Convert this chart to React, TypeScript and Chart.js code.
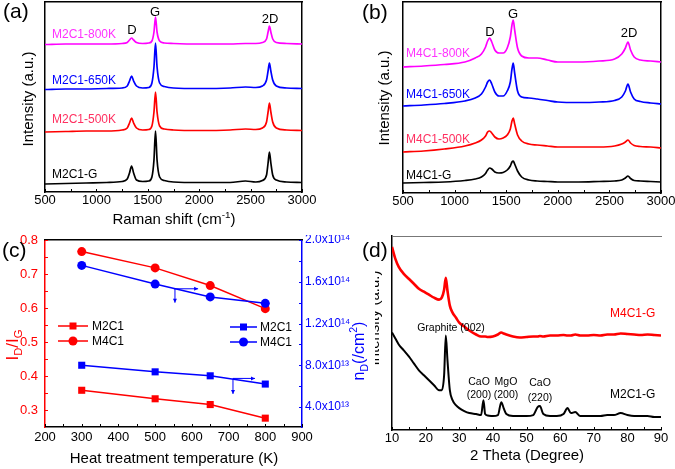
import React, { useEffect, useRef } from "react";
import { Chart, registerables } from "chart.js";

Chart.register(...registerables);

const FONT = "'Liberation Sans', Arial, Helvetica, sans-serif";

// ---------------- Panel (a): Raman spectra of M2C1 samples ----------------
const ramanShiftA = [500, 700, 900, 1100, 1250, 1300, 1322, 1342, 1362, 1390, 1450, 1510, 1540, 1560, 1575, 1590, 1615, 1660, 1750, 2000, 2300, 2450, 2550, 2615, 2655, 2670, 2683, 2697, 2715, 2750, 2850, 3000];
const m2c1G = [8, 8.5, 9, 9.5, 10.5, 13, 19, 26, 19, 12, 10.5, 11, 15, 32, 61, 32, 15, 11.5, 10, 9.5, 9.5, 11, 10, 11.5, 17, 29, 40, 29, 17, 12, 10, 9.5];
const m2c1_500K = [60, 60.5, 61, 61, 62, 64, 69, 74, 69, 64, 62, 62.5, 66, 80, 100, 80, 66, 63, 62, 61.5, 62, 63, 62.5, 64, 70, 80, 89, 80, 70, 64, 62, 61.5];
const m2c1_650K = [102.5, 103, 103, 103.5, 104, 106, 111, 116, 111, 106, 104, 104.5, 109, 125, 149, 125, 109, 105.5, 104, 103.5, 104, 105, 104.5, 106, 112, 121, 129, 121, 112, 106, 104, 103.5];
const m2c1_800K = [147.5, 148, 148, 148, 148.5, 149.5, 152, 154, 152, 149.5, 148.5, 149, 151, 160, 175, 160, 151, 149, 148.5, 148, 148, 148.5, 148.5, 149.5, 153, 160, 166, 160, 153, 149.5, 148.5, 148];

// ---------------- Panel (b): Raman spectra of M4C1 samples ----------------
const ramanShiftB = [500, 700, 900, 1100, 1200, 1260, 1300, 1320, 1340, 1360, 1390, 1430, 1470, 1510, 1540, 1556, 1568, 1582, 1610, 1650, 1720, 1800, 1900, 2000, 2200, 2400, 2550, 2620, 2655, 2680, 2705, 2740, 2800, 2900, 3000];
const m4c1G = [10, 10.5, 11, 12.5, 14, 16, 19.5, 23, 25, 24, 21, 20, 20.5, 23, 27, 31, 32, 29, 22, 16, 13, 12, 11.5, 11, 11, 11.5, 12, 13, 15, 17, 14.5, 12.5, 12, 11.5, 11];
const m4c1_500K = [41, 42, 44, 47, 50, 53, 57, 61, 62, 60, 56, 54, 55, 58, 64, 72, 75, 69, 58, 52, 49, 48, 47, 46, 46, 46, 47, 49, 51, 53, 50, 47.5, 46.5, 46, 45];
const m4c1_650K = [87, 88, 89.5, 92, 95, 99, 106, 111, 113, 109, 101, 97, 97, 102, 111, 124, 130, 120, 102, 96, 95, 94, 92.5, 91, 90.5, 91, 92.5, 96, 102, 109, 101, 94, 91.5, 90, 89];
const m4c1_800K = [126, 127, 128.5, 131, 135, 139, 146, 152, 155, 151, 143, 140, 140, 145, 156, 168, 173, 163, 145, 137, 135, 135, 133, 131, 131, 132, 134, 139, 145, 151, 143, 136, 133, 132, 131];

// ---------------- Panel (c): ID/IG and defect density ----------------
const tempsK = [300, 500, 650, 800];
const ratioM2C1 = [0.358, 0.333, 0.316, 0.276];
const ratioM4C1 = [0.766, 0.718, 0.666, 0.598];
const densityM2C1 = [8.01e13, 7.38e13, 7.0e13, 6.21e13];
const densityM4C1 = [1.757e14, 1.578e14, 1.455e14, 1.394e14];
const ratioTicks = [0.3, 0.4, 0.5, 0.6, 0.7, 0.8];
const densityTicks = [4e13, 8e13, 1.2e14, 1.6e14, 2.0e14];

// ---------------- Panel (d): XRD patterns ----------------
const twoTheta = [10, 11, 12, 13.5, 15, 16.5, 18, 19.5, 21, 22.5, 24, 24.8, 25.5, 26.0, 26.5, 27.2, 28, 29, 30, 31.5, 33, 35, 36.5, 37.2, 37.7, 38.5, 40, 41.5, 42.5, 43.2, 44, 46, 48, 50, 52, 53.3, 54, 55, 57, 59, 61, 62.2, 63.2, 64.5, 66, 68, 70, 72, 74, 76, 78, 80, 82, 84, 86, 88, 90];
const xrdM2C1 = [98, 92, 86, 80, 74, 67, 60, 55, 50, 45, 40, 40, 55, 95, 70, 40, 30, 25, 22, 19, 17, 16, 15, 30, 16, 14.5, 14, 15, 28, 22, 16, 14, 14, 14, 15, 23, 24, 16, 14, 14, 16, 22, 17, 18, 14, 14, 14, 14, 15, 15, 17, 15, 14, 14, 14, 13, 13];
const xrdM4C1 = [184, 172, 164, 157, 152, 147, 142, 139, 136, 133, 131, 133, 141, 153, 140, 125, 118, 113, 108, 104, 100, 96, 94, 94, 94, 93.5, 94, 96, 98, 97, 96, 94, 93, 93.5, 94, 94, 94.5, 94, 95, 95, 95.5, 95, 95, 96, 95, 95, 95.5, 95, 96, 96, 97, 96.5, 96, 95.5, 96, 95.5, 95];

// ---------------- helpers ----------------
type Seg = { t: string; s?: "sub" | "sup" };

function drawRich(ctx: any, segs: Seg[], x: number, y: number, size: number, color: string, align: string, rot: number) {
  const fsz = (s: Seg) => (s.s ? size * 0.66 : size);
  const widths = segs.map((s) => {
    ctx.font = `${fsz(s)}px ${FONT}`;
    return ctx.measureText(s.t).width;
  });
  const total = widths.reduce((a, b) => a + b, 0);
  ctx.save();
  ctx.translate(x, y);
  if (rot) ctx.rotate(rot);
  let cx = align === "center" ? -total / 2 : align === "right" ? -total : 0;
  const base = size * 0.36;
  ctx.fillStyle = color;
  ctx.textBaseline = "alphabetic";
  ctx.textAlign = "left";
  segs.forEach((s, i) => {
    ctx.font = `${fsz(s)}px ${FONT}`;
    const dy = s.s === "sup" ? -size * 0.42 : s.s === "sub" ? size * 0.24 : 0;
    ctx.fillText(s.t, cx, base + dy);
    cx += widths[i];
  });
  ctx.restore();
}

function makeDecor(opts: any) {
  return {
    id: "decor",
    afterDraw(chart: any) {
      const ctx = chart.ctx;
      const a = chart.chartArea;
      ctx.save();
      (opts.ticks || []).forEach((t: any) => {
        const sc = chart.scales[t.scale];
        ctx.strokeStyle = t.color;
        ctx.lineWidth = 1;
        const n = Math.round((t.to - t.from) / t.step);
        for (let i = 0; i <= n; i++) {
          const v = t.from + i * t.step;
          const p = Math.round(sc.getPixelForValue(v)) + 0.5;
          ctx.beginPath();
          if (t.side === "bottom") {
            ctx.moveTo(p, a.bottom);
            ctx.lineTo(p, a.bottom - t.len);
          } else if (t.side === "left") {
            ctx.moveTo(a.left, p);
            ctx.lineTo(a.left + t.len, p);
          } else {
            ctx.moveTo(a.right, p);
            ctx.lineTo(a.right - t.len, p);
          }
          ctx.stroke();
        }
      });
      (opts.legend || []).forEach((l: any) => {
        ctx.strokeStyle = l.color;
        ctx.fillStyle = l.color;
        ctx.lineWidth = 1.5;
        ctx.beginPath();
        ctx.moveTo(l.x1, l.y);
        ctx.lineTo(l.x2, l.y);
        ctx.stroke();
        const cx = (l.x1 + l.x2) / 2;
        if (l.marker === "rect") {
          ctx.fillRect(cx - l.size / 2, l.y - l.size / 2, l.size, l.size);
        } else {
          ctx.beginPath();
          ctx.arc(cx, l.y, l.size / 2, 0, Math.PI * 2);
          ctx.fill();
        }
        drawRich(ctx, [{ t: l.label }], l.tx, l.y, l.fontSize, "#000", "left", 0);
      });
      (opts.arrows || []).forEach((ar: any) => {
        const xs = chart.scales.x;
        const ys = chart.scales[ar.yAxis];
        const x1 = xs.getPixelForValue(ar.x1), y1 = ys.getPixelForValue(ar.y1);
        const x2 = xs.getPixelForValue(ar.x2), y2 = ys.getPixelForValue(ar.y2);
        ctx.strokeStyle = ar.color;
        ctx.fillStyle = ar.color;
        ctx.lineWidth = 1;
        ctx.beginPath();
        ctx.moveTo(x1, y1);
        ctx.lineTo(x2, y2);
        ctx.stroke();
        const ang = Math.atan2(y2 - y1, x2 - x1);
        const h = 4;
        ctx.beginPath();
        ctx.moveTo(x2, y2);
        ctx.lineTo(x2 - h * Math.cos(ang) + (h / 2) * Math.sin(ang), y2 - h * Math.sin(ang) - (h / 2) * Math.cos(ang));
        ctx.lineTo(x2 - h * Math.cos(ang) - (h / 2) * Math.sin(ang), y2 - h * Math.sin(ang) + (h / 2) * Math.cos(ang));
        ctx.closePath();
        ctx.fill();
      });
      (opts.texts || []).forEach((t: any) => {
        drawRich(ctx, t.segs, t.x, t.y, t.size, t.color || "#000", t.align || "left", t.rot || 0);
      });
      ctx.restore();
    },
  };
}

const pts = (xs: number[], ys: number[]) => xs.map((x, i) => ({ x, y: ys[i] }));

const spectrum = (xs: number[], ys: number[], color: string, width = 1.7) => ({
  data: pts(xs, ys),
  xAxisID: "x",
  yAxisID: "y",
  borderColor: color,
  backgroundColor: color,
  borderWidth: width,
  pointRadius: 0,
  cubicInterpolationMode: "monotone",
  fill: false,
});

const noGrid = { display: false, drawTicks: false };
const fitBox = (w?: number, h?: number) => (s: any) => {
  if (w !== undefined) s.width = w;
  if (h !== undefined) s.height = h;
  s.paddingTop = 0;
  s.paddingBottom = 0;
  s.paddingLeft = 0;
  s.paddingRight = 0;
};
const plain = (v: any) => String(v);

// a frame-only axis (top or right edge of the plot box)
const frameAxis = (position: string, color: string, width = 1.5) => ({
  type: "linear",
  position,
  display: true,
  min: 0,
  max: 1,
  grid: noGrid,
  border: { display: true, color, width },
  ticks: { display: false },
  afterFit: position === "top" ? fitBox(undefined, 0) : fitBox(0, undefined),
});

const baseOpts = {
  animation: false,
  responsive: false,
  devicePixelRatio: 1,
  events: [],
};

const ROT = -Math.PI / 2;
const MAGENTA_T = "#ff33ff";
const RED_T = "#ff3060";
const BLUE_T = "#0000ff";

function ramanConfig(xs: number[], series: number[][], padLeftAxis: number, padRight: number, xHeight: number, yMax: number, texts: any[]) {
  return {
    type: "line",
    data: {
      datasets: [
        spectrum(xs, series[0], "#000000"),
        spectrum(xs, series[1], "#ff0000"),
        spectrum(xs, series[2], "#0000ff"),
        spectrum(xs, series[3], "#ff00ff"),
      ],
    },
    options: {
      ...baseOpts,
      layout: { padding: { left: 0, top: 2, right: padRight, bottom: 0 } },
      plugins: { legend: { display: false }, tooltip: { enabled: false } },
      scales: {
        x: {
          type: "linear",
          position: "bottom",
          min: 500,
          max: 3000,
          grid: noGrid,
          border: { display: true, color: "#000", width: 1.5 },
          ticks: { stepSize: 500, padding: 1, color: "#000", maxRotation: 0, autoSkip: false, font: { family: FONT, size: 13 }, callback: plain },
          afterFit: fitBox(undefined, xHeight),
        },
        y: {
          type: "linear",
          position: "left",
          min: 0,
          max: yMax,
          grid: noGrid,
          border: { display: true, color: "#000", width: 1.5 },
          ticks: { display: false },
          afterFit: fitBox(padLeftAxis, undefined),
        },
        xTop: frameAxis("top", "#000"),
        yRight: frameAxis("right", "#000"),
      },
    },
    plugins: [
      makeDecor({
        ticks: [{ scale: "x", side: "bottom", from: 500, to: 3000, step: 250, len: 3, color: "#000" }],
        texts,
      }),
    ],
  };
}

const configA = ramanConfig(ramanShiftA, [m2c1G, m2c1_500K, m2c1_650K, m2c1_800K], 45, 33, 43, 190, [
  { segs: [{ t: "M2C1-800K" }], x: 52, y: 34, size: 12, color: MAGENTA_T },
  { segs: [{ t: "M2C1-650K" }], x: 52, y: 80, size: 12, color: BLUE_T },
  { segs: [{ t: "M2C1-500K" }], x: 52, y: 119, size: 12, color: RED_T },
  { segs: [{ t: "M2C1-G" }], x: 52, y: 174, size: 12, color: "#000" },
  { segs: [{ t: "D" }], x: 132, y: 29, size: 13, align: "center" },
  { segs: [{ t: "G" }], x: 155, y: 11, size: 13, align: "center" },
  { segs: [{ t: "2D" }], x: 270, y: 18, size: 13, align: "center" },
  { segs: [{ t: "Raman shift (cm" }, { t: "-1", s: "sup" }, { t: ")" }], x: 174, y: 219, size: 15, align: "center" },
  { segs: [{ t: "Intensity (a.u.)" }], x: 28, y: 99, size: 15, align: "center", rot: ROT },
]);

const configB = ramanConfig(ramanShiftB, [m4c1G, m4c1_500K, m4c1_650K, m4c1_800K], 63, 14, 42, 191, [
  { segs: [{ t: "M4C1-800K" }], x: 66, y: 53, size: 12, color: MAGENTA_T },
  { segs: [{ t: "M4C1-650K" }], x: 66, y: 94, size: 12, color: BLUE_T },
  { segs: [{ t: "M4C1-500K" }], x: 66, y: 139, size: 12, color: RED_T },
  { segs: [{ t: "M4C1-G" }], x: 66, y: 175, size: 12, color: "#000" },
  { segs: [{ t: "D" }], x: 150, y: 31, size: 13, align: "center" },
  { segs: [{ t: "G" }], x: 173, y: 13, size: 13, align: "center" },
  { segs: [{ t: "2D" }], x: 289, y: 32, size: 13, align: "center" },
  { segs: [{ t: "Intensity (a.u.)" }], x: 44, y: 98, size: 15, align: "center", rot: ROT },
]);

const sciLabel = (v: number) => {
  const sup: any = { "0": "\u2070", "1": "\u00b9", "2": "\u00b2", "3": "\u00b3", "4": "\u2074", "5": "\u2075", "6": "\u2076", "7": "\u2077", "8": "\u2078", "9": "\u2079" };
  const e = Math.floor(Math.log10(v) + 1e-9);
  const m = v / Math.pow(10, e);
  return `${m.toFixed(1)}x10${String(e).split("").map((c) => sup[c]).join("")}`;
};

const configC = {
  type: "line",
  data: {
    datasets: [
      { data: pts(tempsK, densityM2C1), xAxisID: "x", yAxisID: "y1", borderColor: "#0000ff", backgroundColor: "#0000ff", borderWidth: 1.5, pointStyle: "rect", pointRadius: 5, pointBorderWidth: 0 },
      { data: pts(tempsK, densityM4C1), xAxisID: "x", yAxisID: "y1", borderColor: "#0000ff", backgroundColor: "#0000ff", borderWidth: 1.5, pointStyle: "circle", pointRadius: 4.5, pointBorderWidth: 0 },
      { data: pts(tempsK, ratioM2C1), xAxisID: "x", yAxisID: "y", borderColor: "#ff0000", backgroundColor: "#ff0000", borderWidth: 1.5, pointStyle: "rect", pointRadius: 5, pointBorderWidth: 0 },
      { data: pts(tempsK, ratioM4C1), xAxisID: "x", yAxisID: "y", borderColor: "#ff0000", backgroundColor: "#ff0000", borderWidth: 1.5, pointStyle: "circle", pointRadius: 4.5, pointBorderWidth: 0 },
    ],
  },
  options: {
    ...baseOpts,
    layout: { padding: { left: 0, top: 3, right: 0, bottom: 0 } },
    plugins: { legend: { display: false }, tooltip: { enabled: false } },
    scales: {
      x: {
        type: "linear",
        position: "bottom",
        min: 200,
        max: 900,
        grid: noGrid,
        border: { display: true, color: "#000", width: 1.5 },
        ticks: { stepSize: 100, padding: 3, color: "#000", maxRotation: 0, autoSkip: false, font: { family: FONT, size: 13 }, callback: plain },
        afterFit: fitBox(undefined, 42),
      },
      y: {
        type: "linear",
        position: "left",
        min: 0.25,
        max: 0.8,
        grid: noGrid,
        border: { display: true, color: "#ff0000", width: 1.5 },
        afterBuildTicks: (s: any) => {
          s.ticks = ratioTicks.map((v) => ({ value: v }));
        },
        ticks: { padding: 7, color: "#ff0000", autoSkip: false, font: { family: FONT, size: 13 }, callback: (v: any) => Number(v).toFixed(1) },
        afterFit: fitBox(45, undefined),
      },
      y1: {
        type: "linear",
        position: "right",
        min: 2.1e13,
        max: 2.0e14,
        grid: noGrid,
        border: { display: true, color: "#0000ff", width: 1.5 },
        afterBuildTicks: (s: any) => {
          s.ticks = densityTicks.map((v) => ({ value: v }));
        },
        ticks: { padding: 3, color: "#0000ff", autoSkip: false, font: { family: FONT, size: 12 }, callback: (v: any) => sciLabel(Number(v)) },
        afterFit: fitBox(71, undefined),
      },
      xTop: frameAxis("top", "#000"),
    },
  },
  plugins: [
    makeDecor({
      ticks: [
        { scale: "x", side: "bottom", from: 200, to: 900, step: 50, len: 3, color: "#000" },
        { scale: "y", side: "left", from: 0.3, to: 0.8, step: 0.05, len: 3, color: "#ff0000" },
        { scale: "y1", side: "right", from: 4e13, to: 2e14, step: 2e13, len: 3, color: "#0000ff" },
      ],
      legend: [
        { x1: 58, x2: 88, y: 91, color: "#ff0000", marker: "rect", size: 7, tx: 92, label: "M2C1", fontSize: 12 },
        { x1: 58, x2: 88, y: 106, color: "#ff0000", marker: "circle", size: 9, tx: 92, label: "M4C1", fontSize: 12 },
        { x1: 230, x2: 257, y: 92, color: "#0000ff", marker: "rect", size: 7, tx: 260, label: "M2C1", fontSize: 12 },
        { x1: 230, x2: 257, y: 107, color: "#0000ff", marker: "circle", size: 9, tx: 260, label: "M4C1", fontSize: 12 },
      ],
      arrows: [
        { x1: 551, y1: 1.533e14, x2: 617, y2: 1.533e14, yAxis: "y1", color: "#0000ff" },
        { x1: 554, y1: 1.533e14, x2: 554, y2: 1.4e14, yAxis: "y1", color: "#0000ff" },
        { x1: 712, y1: 0.675e14, x2: 772, y2: 0.675e14, yAxis: "y1", color: "#0000ff" },
        { x1: 712, y1: 0.675e14, x2: 712, y2: 0.527e14, yAxis: "y1", color: "#0000ff" },
      ],
      texts: [
        { segs: [{ t: "Heat treatment temperature (K)" }], x: 174, y: 223, size: 15, align: "center" },
        { segs: [{ t: "I" }, { t: "D", s: "sub" }, { t: "/I" }, { t: "G", s: "sub" }], x: 12, y: 110, size: 17, color: "#ff0000", align: "center", rot: ROT },
        { segs: [{ t: "n" }, { t: "D", s: "sub" }, { t: "(/cm" }, { t: "2", s: "sup" }, { t: ")" }], x: 358, y: 116, size: 16, color: "#0000ff", align: "center", rot: ROT },
      ],
    }),
  ],
};

const configD = {
  type: "line",
  data: {
    datasets: [
      spectrum(twoTheta, xrdM2C1, "#000000", 2),
      spectrum(twoTheta, xrdM4C1, "#ff0000", 2.6),
    ],
  },
  options: {
    ...baseOpts,
    layout: { padding: { left: 0, top: 1, right: 14, bottom: 0 } },
    plugins: { legend: { display: false }, tooltip: { enabled: false } },
    scales: {
      x: {
        type: "linear",
        position: "bottom",
        min: 10,
        max: 90,
        grid: noGrid,
        border: { display: true, color: "#000", width: 1.5 },
        ticks: { stepSize: 10, padding: 1, color: "#000", maxRotation: 0, autoSkip: false, font: { family: FONT, size: 13 }, callback: plain },
        afterFit: fitBox(undefined, 39),
      },
      y: {
        type: "linear",
        position: "left",
        min: 0,
        max: 195,
        grid: noGrid,
        border: { display: true, color: "#000", width: 1.5 },
        ticks: { display: false },
        afterFit: fitBox(17, undefined),
      },
      xTop: frameAxis("top", "#777", 1),
    },
  },
  plugins: [
    makeDecor({
      ticks: [{ scale: "x", side: "bottom", from: 10, to: 90, step: 5, len: 3, color: "#000" }],
      texts: [
        { segs: [{ t: "M4C1-G" }], x: 235, y: 78, size: 12, color: "#ff0000" },
        { segs: [{ t: "M2C1-G" }], x: 235, y: 159, size: 12, color: "#000" },
        { segs: [{ t: "Graphite (002)" }], x: 76, y: 92, size: 10.5, align: "center" },
        { segs: [{ t: "CaO" }], x: 104, y: 146, size: 10.5, align: "center" },
        { segs: [{ t: "(200)" }], x: 104, y: 159, size: 10.5, align: "center" },
        { segs: [{ t: "MgO" }], x: 131, y: 146, size: 10.5, align: "center" },
        { segs: [{ t: "(200)" }], x: 131, y: 159, size: 10.5, align: "center" },
        { segs: [{ t: "CaO" }], x: 165, y: 147, size: 10.5, align: "center" },
        { segs: [{ t: "(220)" }], x: 165, y: 162, size: 10.5, align: "center" },
        { segs: [{ t: "2 Theta (Degree)" }], x: 152, y: 220, size: 15, align: "center" },
        { segs: [{ t: "Intensity (a.u.)" }], x: -1.5, y: 83, size: 15, align: "center", rot: ROT },
      ],
    }),
  ],
};

function ChartCanvas({ config, left, top, width, height }: any) {
  const ref = useRef<HTMLCanvasElement>(null);
  useEffect(() => {
    const chart = new Chart(ref.current as HTMLCanvasElement, config as any);
    return () => chart.destroy();
  }, [config]);
  return (
    <canvas
      ref={ref}
      width={width}
      height={height}
      style={{ position: "absolute", left, top, width, height }}
    />
  );
}

const panelLabel = (text: string, left: number, top: number) => (
  <div
    key={text}
    style={{
      position: "absolute",
      left,
      top,
      fontFamily: FONT,
      fontSize: 21,
      lineHeight: "21px",
      color: "#000",
      whiteSpace: "nowrap",
    }}
  >
    {text}
  </div>
);

export default function App() {
  return (
    <div
      style={{
        position: "fixed",
        left: 0,
        top: 0,
        width: 675,
        height: 469,
        background: "#fff",
        overflow: "hidden",
      }}
    >
      <ChartCanvas config={configA} left={0} top={0} width={335} height={235} />
      <ChartCanvas config={configB} left={340} top={0} width={335} height={235} />
      <ChartCanvas config={configC} left={0} top={235} width={373} height={234} />
      <ChartCanvas config={configD} left={375} top={235} width={300} height={234} />
      {panelLabel("(a)", 3, 0)}
      {panelLabel("(b)", 362, 1)}
      {panelLabel("(c)", 2, 239)}
      {panelLabel("(d)", 362, 239)}
    </div>
  );
}
